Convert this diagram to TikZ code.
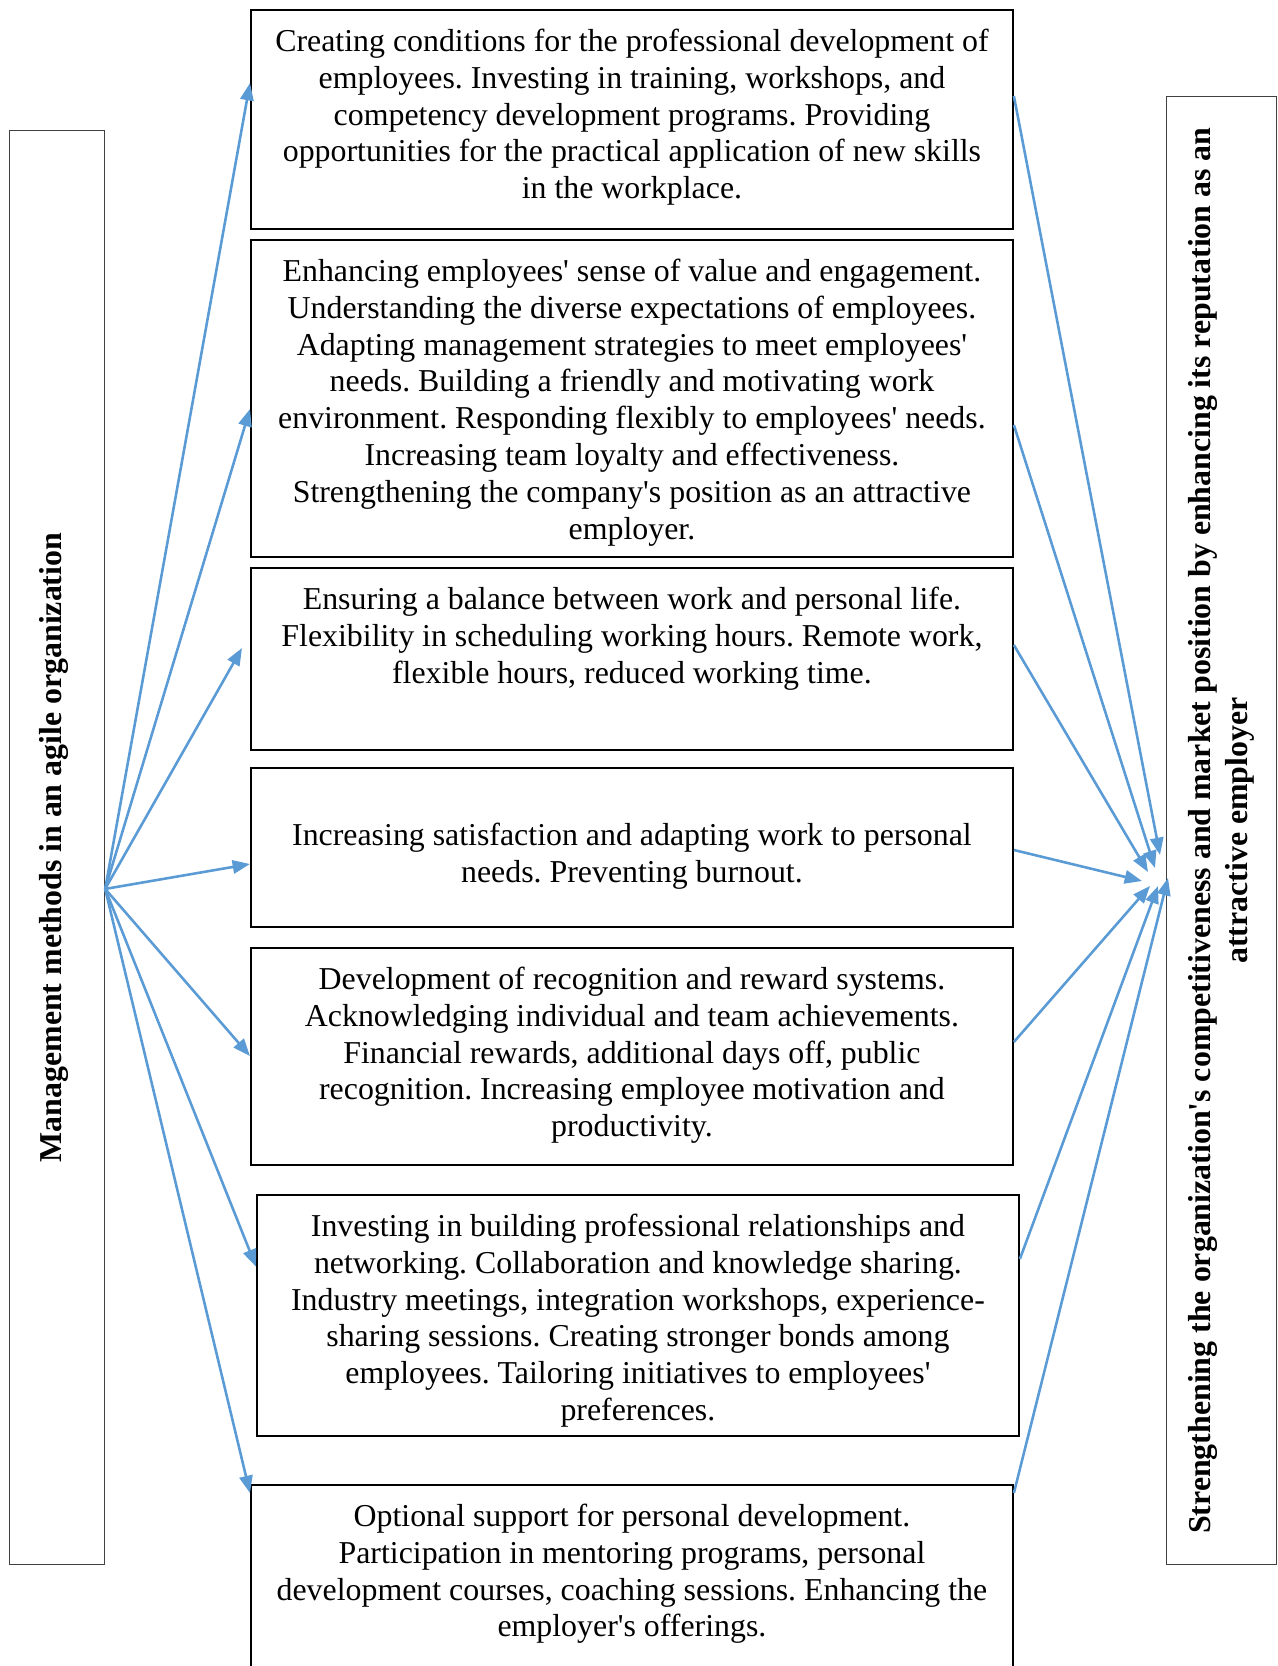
\documentclass[tikz,border=0pt]{standalone}
\usepackage{fontspec}
\setmainfont{Liberation Serif}
\newfontfamily\bodyfont{Liberation Serif}
\usetikzlibrary{arrows.meta}
\definecolor{arrblue}{HTML}{5B9BD5}
\frenchspacing
\tikzset{
  box/.style={draw, line width=0.8pt, anchor=north west, minimum width=11.43cm, inner sep=0pt},
  side/.style={draw=black!75, line width=0.5pt, anchor=north west, inner sep=0pt},
  txt/.style={anchor=north, align=center, inner sep=0pt, font=\bodyfont\fontsize{13.6}{15.75}\selectfont},
  lbl/.style={rotate=90, align=center, inner sep=0pt, font=\bodyfont\fontsize{13.6}{15.75}\selectfont\bfseries},
  arr/.style={arrblue, line width=1.1pt, -{Triangle[length=0.26cm,width=0.2cm]}}
}
\begin{document}
\begin{tikzpicture}[x=1cm,y=1cm]
\useasboundingbox (0,0) rectangle (19.17,-24.99);
% the two side boxes
\node[side, minimum width=1.425cm, minimum height=21.51cm] (lbox) at (0.135,-1.95) {};
\node[lbl] (ltext) at ([xshift=-0.05cm]lbox.center) {Management methods in an agile organization};
\node[side, minimum width=1.65cm, minimum height=22.02cm] (rbox) at (17.49,-1.44) {};
\node[lbl] (rtext) at (rbox.center) {Strengthening the organization's competitiveness and market position by enhancing its reputation as an\\ attractive employer};
% method boxes
\node[box, minimum height=3.285cm] (b1) at (3.75,-0.135) {};
\node[txt] (t1) at ([yshift=-0.29cm]b1.north) {Creating conditions for the professional development of\\ employees. Investing in training, workshops, and\\ competency development programs. Providing\\ opportunities for the practical application of new skills\\ in the workplace.};
\node[box, minimum height=4.755cm] (b2) at (3.75,-3.585) {};
\node[txt] (t2) at ([yshift=-0.29cm]b2.north) {Enhancing employees' sense of value and engagement.\\ Understanding the diverse expectations of employees.\\ Adapting management strategies to meet employees'\\ needs. Building a friendly and motivating work\\ environment. Responding flexibly to employees' needs.\\ Increasing team loyalty and effectiveness.\\ Strengthening the company's position as an attractive\\ employer.};
\node[box, minimum height=2.73cm] (b3) at (3.75,-8.505) {};
\node[txt] (t3) at ([yshift=-0.29cm]b3.north) {Ensuring a balance between work and personal life.\\ Flexibility in scheduling working hours. Remote work,\\ flexible hours, reduced working time.};
\node[box, minimum height=2.385cm] (b4) at (3.75,-11.505) {};
\node[txt] (t4) at ([yshift=-0.83cm]b4.north) {Increasing satisfaction and adapting work to personal\\ needs. Preventing burnout.};
\node[box, minimum height=3.255cm] (b5) at (3.75,-14.205) {};
\node[txt] (t5) at ([yshift=-0.29cm]b5.north) {Development of recognition and reward systems.\\ Acknowledging individual and team achievements.\\ Financial rewards, additional days off, public\\ recognition. Increasing employee motivation and\\ productivity.};
\node[box, minimum height=3.615cm] (b6) at (3.84,-17.91) {};
\node[txt] (t6) at ([yshift=-0.29cm]b6.north) {Investing in building professional relationships and\\ networking. Collaboration and knowledge sharing.\\ Industry meetings, integration workshops, experience-\\ sharing sessions. Creating stronger bonds among\\ employees. Tailoring initiatives to employees'\\ preferences.};
\node[box, minimum height=3.2cm] (b7) at (3.75,-22.26) {};
\node[txt] (t7) at ([yshift=-0.29cm]b7.north) {Optional support for personal development.\\ Participation in mentoring programs, personal\\ development courses, coaching sessions. Enhancing the\\ employer's offerings.};
% arrows out of the left box
\coordinate (src) at ([yshift=-0.62cm]lbox.east);
\draw[arr] (src) -- (3.705,-1.245 -| b1.west);
\draw[arr] (src) -- (b2.west |- 0,-6.135);
\draw[arr] (src) -- (3.63,-9.72);
\draw[arr] (src) -- (b4.west |- 0,-12.96);
\draw[arr] (src) -- (b5.west |- 0,-15.84);
\draw[arr] (src) -- (b6.west |- 0,-19.0);
\draw[arr] (src) -- (b7.west |- 0,-22.395);
% arrows into the right box
\coordinate (e1) at (17.40,-12.825);
\coordinate (e2) at (17.325,-13.02);
\coordinate (e3) at (17.22,-13.08);
\coordinate (e4) at (17.13,-13.215);
\coordinate (e5) at (17.25,-13.29);
\coordinate (e6) at (17.37,-13.29);
\coordinate (e7) at (17.52,-13.17);
\draw[arr] (b1.east |- 0,-1.44) -- (e1);
\draw[arr] (b2.east |- 0,-6.375) -- (e2);
\draw[arr] (b3.east |- 0,-9.675) -- (e3);
\draw[arr] (b4.east |- 0,-12.75) -- (e4);
\draw[arr] (b5.east |- 0,-15.63) -- (e5);
\draw[arr] (b6.east |- 0,-18.885) -- (e6);
\draw[arr] (b7.east |- 0,-22.395) -- (e7);
\end{tikzpicture}
\end{document}
